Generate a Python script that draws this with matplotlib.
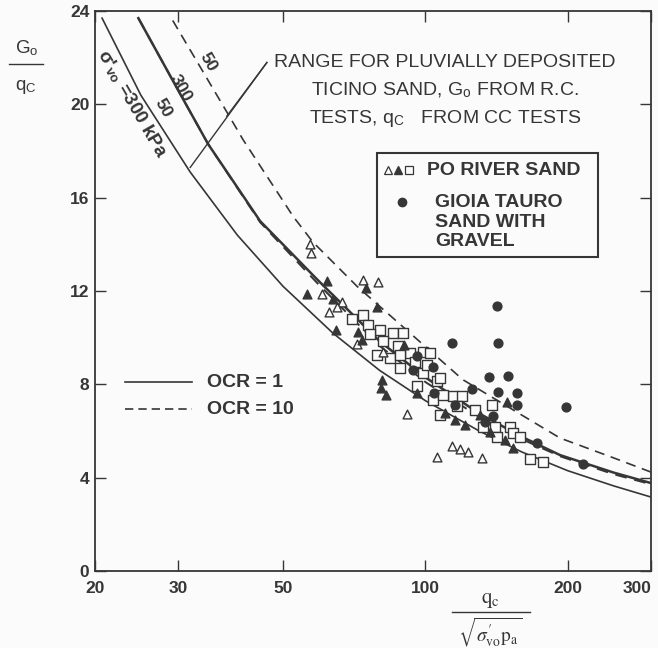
import matplotlib
matplotlib.use("Agg")
import matplotlib.pyplot as plt
from matplotlib.lines import Line2D
from matplotlib.patches import Rectangle

plt.rcParams['font.family'] = ['Liberation Sans', 'DejaVu Sans']
plt.rcParams['mathtext.fontset'] = 'stix'

INK = '#363636'
BG = '#fbfbfb'

# Ticino sand ranges (x = qc / sqrt(s'vo pa), y = Go / qc)
ocr1_300_x = [20.7, 25, 31.8, 40, 50, 63.7, 80, 100, 130, 160, 200, 250, 300]
ocr1_300_y = [23.7, 20.4, 17.1, 14.4, 12.2, 10.2, 8.6, 7.3, 6.0, 5.1, 4.3, 3.65, 3.17]

ocr1_50_x = [24.7, 30, 34.7, 44.7, 59, 80, 100, 130, 160, 192.6, 250, 300]
ocr1_50_y = [23.7, 20.6, 18.3, 15.0, 12.5, 9.85, 8.3, 6.75, 5.75, 4.97, 4.22, 3.77]

ocr10_300_x = [24.7, 30, 34.7, 44.7, 59, 80, 100, 130, 160, 192.6, 250, 300]
ocr10_300_y = [23.7, 20.6, 18.3, 14.95, 12.35, 9.65, 8.1, 6.6, 5.65, 4.92, 4.15, 3.72]

ocr10_50_x = [29.2, 38.2, 41.1, 52.5, 57.8, 71.7, 120, 192.6, 250, 300]
ocr10_50_y = [23.6, 19.6, 18.5, 15.2, 14.1, 12.2, 8.2, 5.7, 4.85, 4.24]

# Po River sand
po_open_tri_x = [57.0, 57.3, 73.8, 79.4, 60.4, 66.6, 65.0, 62.5, 71.7, 81.4,
                 91.5, 105.9, 113.9, 118.4, 123.1, 131.8]
po_open_tri_y = [14.01, 13.63, 12.47, 12.39, 11.87, 11.53, 11.31, 11.10, 9.73, 9.39,
                 6.73, 4.89, 5.36, 5.23, 5.10, 4.84]

po_solid_tri_x = [61.9, 56.2, 63.7, 74.9, 79.1, 64.7, 72.0, 73.4, 90.1, 81.0, 80.6,
                  82.6, 96.0, 110.1, 121.3, 115.6, 137.0, 147.4, 153.2, 148.8, 130.5]
po_solid_tri_y = [12.43, 11.87, 11.66, 12.13, 11.31, 10.33, 10.24, 9.90, 9.69, 8.19, 7.84,
                  7.54, 7.63, 6.77, 6.26, 6.47, 5.96, 5.61, 5.27, 7.24, 6.69]

po_square_x = [70.0, 73.8, 75.6, 80.2, 76.4, 85.4, 89.7, 81.4, 87.5, 92.8, 98.8, 84.2,
               79.1, 88.4, 95.1, 98.8, 105.9, 96.0, 103.8, 114.5, 119.6, 116.7, 107.4,
               109.0, 107.4, 127.4, 138.3, 132.4, 140.4, 141.8, 151.0, 153.2, 158.5,
               166.4, 177.3, 100.8, 102.3, 88.4]
po_square_y = [10.80, 10.97, 10.54, 10.33, 10.16, 10.20, 10.20, 9.86, 9.64, 9.34, 9.39, 9.13,
               9.26, 8.70, 8.96, 8.49, 8.14, 7.93, 7.33, 7.50, 7.50, 7.07, 8.27,
               7.54, 6.69, 6.90, 7.11, 6.17, 6.17, 5.74, 6.17, 5.91, 5.74,
               4.80, 4.67, 8.83, 9.34, 9.26]

# Gioia Tauro sand with gravel
gioia_x = [141.8, 113.9, 142.4, 136.4, 149.5, 125.5, 142.4, 156.2, 198.3, 215.4,
           172.1, 96.0, 103.8, 94.2, 104.3, 115.6, 133.7, 139.0, 156.2]
gioia_y = [11.36, 9.77, 9.77, 8.31, 8.36, 7.80, 7.67, 7.63, 7.03, 4.59,
           5.49, 9.21, 8.74, 8.61, 7.63, 7.11, 6.39, 6.64, 7.11]

x_ticks = [20, 30, 50, 100, 200, 300]
y_ticks = [0, 4, 8, 12, 16, 20, 24]

fig = plt.figure(figsize=(6.58, 6.48), dpi=100)
fig.patch.set_facecolor(BG)
ax = fig.add_axes([0.1444, 0.1188, 0.845, 0.864])
ax.set_facecolor(BG)

ax.plot(ocr1_300_x, ocr1_300_y, color=INK, lw=1.2)
ax.plot(ocr1_50_x, ocr1_50_y, color=INK, lw=1.8)
ax.plot(ocr10_300_x, ocr10_300_y, color=INK, lw=1.4, dashes=(6, 4))
ax.plot(ocr10_50_x, ocr10_50_y, color=INK, lw=1.2, dashes=(6, 4))

ax.scatter(po_square_x, po_square_y, marker='s', s=55, facecolors=BG,
           edgecolors=INK, linewidths=1.0, zorder=3)
ax.scatter(po_open_tri_x, po_open_tri_y, marker='^', s=40, facecolors=BG,
           edgecolors=INK, linewidths=1.0, zorder=4)
ax.scatter(po_solid_tri_x, po_solid_tri_y, marker='^', s=40, color=INK, zorder=4)
ax.scatter(gioia_x, gioia_y, marker='o', s=40, color=INK, zorder=5)

ax.set_xscale('log')
ax.set_xlim(20, 300)
ax.set_ylim(0, 24)
ax.set_xticks(x_ticks)
ax.set_xticklabels([str(t) for t in x_ticks])
ax.xaxis.set_minor_locator(matplotlib.ticker.NullLocator())
ax.set_yticks(y_ticks)
ax.set_yticklabels([str(t) for t in y_ticks])
ax.tick_params(direction='in', length=8, width=1.0, color=INK, top=True, right=True,
               labelsize=12.5, labelcolor=INK)
for lab in ax.get_xticklabels() + ax.get_yticklabels():
    lab.set_fontweight('bold')
ax.get_xticklabels()[-1].set_horizontalalignment('right')
ax.tick_params(axis='x', pad=7)
ax.tick_params(axis='y', pad=4)
for sp in ax.spines.values():
    sp.set_color(INK)
    sp.set_linewidth(1.3)

# curve labels
ax.text(0.066, 0.835, "σ'$_\\mathregular{vo}$ =300 kPa", transform=ax.transAxes, rotation=-60,
        ha='center', va='center', fontsize=13.5, fontweight='bold', color=INK)
ax.text(0.154, 0.862, "300", transform=ax.transAxes, rotation=-60,
        ha='center', va='center', fontsize=12.5, fontweight='bold', color=INK)
ax.text(0.122, 0.826, "50", transform=ax.transAxes, rotation=-60,
        ha='center', va='center', fontsize=12.5, fontweight='bold', color=INK)
ax.text(0.204, 0.909, "50", transform=ax.transAxes, rotation=-60,
        ha='center', va='center', fontsize=12.5, fontweight='bold', color=INK)

# Ticino range note with leaders
note_lines = ["RANGE FOR PLUVIALLY DEPOSITED",
              "TICINO SAND, G$_\\mathregular{o}$ FROM R.C.",
              "TESTS, q$_\\mathregular{C}$   FROM CC TESTS"]
for txt, yy in zip(note_lines, [0.909, 0.859, 0.809]):
    ax.text(0.629, yy, txt, transform=ax.transAxes,
            ha='center', va='center', fontsize=14, color=INK)
ax.plot([46.2, 31.8], [21.8, 17.3], color=INK, lw=1.0)
ax.plot([46.2, 38.0], [21.8, 19.5], color=INK, lw=1.0)

# symbol key
ax.add_patch(Rectangle((0.507, 0.561), 0.398, 0.185, transform=ax.transAxes,
                       fill=False, edgecolor=INK, lw=1.5, zorder=6))
ax.plot([0.527], [0.716], transform=ax.transAxes, marker='^', ms=5.5, mfc=BG, mec=INK, mew=0.9)
ax.plot([0.545], [0.716], transform=ax.transAxes, marker='^', ms=5.5, color=INK)
ax.plot([0.564], [0.716], transform=ax.transAxes, marker='s', ms=5.5, mfc=BG, mec=INK, mew=0.9)
ax.text(0.597, 0.716, "PO RIVER SAND", transform=ax.transAxes, ha='left', va='center',
        fontsize=14, fontweight='bold', color=INK)
ax.plot([0.552], [0.659], transform=ax.transAxes, marker='o', ms=6, color=INK)
for txt, yy in [("GIOIA TAURO", 0.659), ("SAND WITH", 0.623), ("GRAVEL", 0.589)]:
    ax.text(0.6115, yy, txt, transform=ax.transAxes, ha='left', va='center',
            fontsize=14, fontweight='bold', color=INK)

# OCR key
ax.plot([0.054, 0.174], [0.3375, 0.3375], transform=ax.transAxes, color=INK, lw=1.2)
ax.plot([0.054, 0.174], [0.289, 0.289], transform=ax.transAxes, color=INK, lw=1.2, dashes=(5, 3))
ax.text(0.201, 0.3375, "OCR = 1", transform=ax.transAxes, ha='left', va='center',
        fontsize=14, fontweight='bold', color=INK)
ax.text(0.201, 0.289, "OCR = 10", transform=ax.transAxes, ha='left', va='center',
        fontsize=14, fontweight='bold', color=INK)

# axis titles as stacked fractions
fig.text(0.040, 0.925, r"G$_\mathregular{o}$", ha='center', va='center', fontsize=13.5, color=INK)
fig.add_artist(Line2D([0.014, 0.066], [0.901, 0.901], color=INK, lw=1.0))
fig.text(0.040, 0.866, r"q$_\mathregular{C}$", ha='center', va='center', fontsize=13.5, color=INK)

fig.text(0.745, 0.074, r"$\mathrm{q_c}$", ha='center', va='center', fontsize=15,
         color=INK)
fig.add_artist(Line2D([0.687, 0.806], [0.056, 0.056], color=INK, lw=1.0))
fig.text(0.745, 0.024, r"$\sqrt{\sigma_{\mathrm{vo}}^{\prime}\mathrm{p_a}}$", ha='center',
         va='center', fontsize=14, color=INK)

fig.savefig("out.png", dpi=100, facecolor=fig.get_facecolor())
